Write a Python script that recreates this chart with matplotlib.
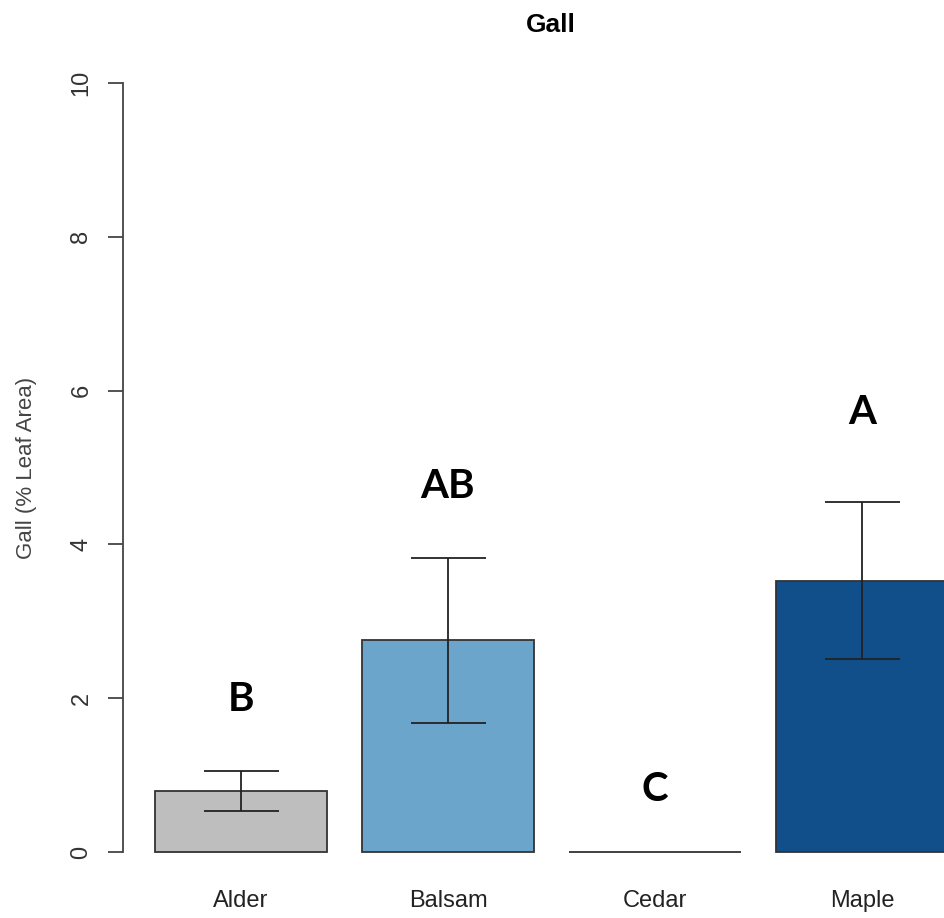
import numpy as np
import matplotlib.pyplot as plt

# gall damage per tree species (% leaf area)
species = ['Alder', 'Balsam', 'Cedar', 'Maple']
gall_mean = [0.79, 2.76, 0.0, 3.53]
gall_lower = [0.53, 1.68, 0.0, 2.51]
gall_upper = [1.05, 3.83, 0.0, 4.55]
letters = ['B', 'AB', 'C', 'A']
letter_y = [1.98, 4.75, 0.81, 5.72]
bar_colors = ['#bebebe', '#6ba5cc', '#bebebe', '#114f8b']
yticks = [0, 2, 4, 6, 8, 10]

plt.rcParams['font.family'] = ['Liberation Sans', 'DejaVu Sans']

fig = plt.figure(figsize=(9.45, 9.18), dpi=100)
# plot region runs past the right edge, as in the cropped original
ax = fig.add_axes([123/945, 35/918, 857/945, 831/918])

x = 0.7 + 1.2*np.arange(len(species))
mean = np.array(gall_mean)
yerr = np.vstack([mean - np.array(gall_lower), np.array(gall_upper) - mean])

ax.bar(x, mean, width=1.0, color=bar_colors, edgecolor='#333333', linewidth=1.3)
# no error bar for Cedar (all zero)
show = mean > 0
ax.errorbar(x[show], mean[show], yerr=yerr[:, show], fmt='none',
            ecolor='#222222', elinewidth=1.3, capsize=27, capthick=1.3)

for xi, lab, yl in zip(x, letters, letter_y):
    ax.text(xi, yl, lab, ha='center', va='center', fontsize=29,
            fontweight='bold', family=['Lato', 'DejaVu Sans'], color='black')

ax.set_xlim(0.016, 4.984)
ax.set_ylim(-0.4, 10.4)
ax.set_yticks(yticks)
ax.set_yticklabels([str(t) for t in yticks], rotation=90, va='center',
                   fontsize=17, color='#333333')
ax.set_xticks(x)
ax.set_xticklabels(species, fontsize=17, color='#222222')
ax.tick_params(axis='x', length=0, pad=5)
ax.tick_params(axis='y', length=11, width=1.3, color='#444444', pad=11)

for s in ['top', 'right', 'bottom']:
    ax.spines[s].set_visible(False)
ax.spines['left'].set_bounds(0, 10)
ax.spines['left'].set_color('#444444')
ax.spines['left'].set_linewidth(1.3)

ax.set_ylabel('Gall (% Leaf Area)', fontsize=16, color='#444444', labelpad=24)
fig.text(551/945, 1 - 25/918, 'Gall', ha='center', va='center',
         fontsize=19, fontweight='bold')

fig.savefig('out.png', dpi=100)
